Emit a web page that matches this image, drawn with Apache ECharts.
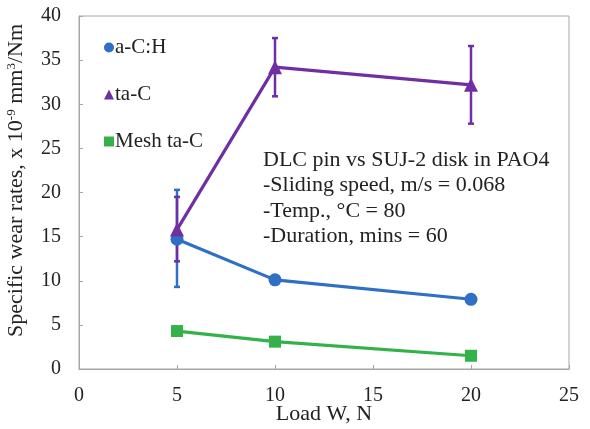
<!DOCTYPE html>
<html>
<head>
<meta charset="utf-8">
<script src="https://cdn.jsdelivr.net/npm/echarts@6/dist/echarts.min.js"></script>
<style>
  html, body { margin: 0; padding: 0; background: #fff; }
  #main { width: 590px; height: 429px; }
</style>
</head>
<body>
<div id="main"></div>
<script>
// data
var loads = [5, 10, 20];
var acH = [14.7, 10.1, 7.9];
var taC = [15.8, 34.2, 32.2];
var meshTaC = [4.3, 3.1, 1.5];
// error bars [low, high]
var acHErr = [[9.3, 20.3]];
var acHErrX = [5];
var taCErr = [[12.2, 19.5], [30.9, 37.5], [27.8, 36.6]];
var taCErrX = [5, 10, 20];
var xTicks = [0, 5, 10, 15, 20, 25];
var yTicks = [0, 5, 10, 15, 20, 25, 30, 35, 40];
var notes = [
  'DLC pin vs SUJ-2 disk in PAO4',
  '-Sliding speed, m/s = 0.068',
  '-Temp., \u00B0C = 80',
  '-Duration, mins = 60'
];

var FONT = '"Liberation Serif", "DejaVu Serif", serif';
var BLUE = '#2f6fc6', PURPLE = '#6f2fa3', GREEN = '#33b24a';

function pairs(xs, ys) {
  return xs.map(function (x, i) { return [x, ys[i]]; });
}
function errData(xs, errs) {
  return xs.map(function (x, i) { return [x, errs[i][0], errs[i][1]]; });
}
function errSeries(name, color, data) {
  return {
    name: name + ' err',
    type: 'custom',
    z: 1,
    silent: true,
    data: data,
    renderItem: function (params, api) {
      var lo = api.coord([api.value(0), api.value(1)]);
      var hi = api.coord([api.value(0), api.value(2)]);
      var w = 3;
      var st = { stroke: color, lineWidth: 2.5 };
      return {
        type: 'group',
        children: [
          { type: 'line', shape: { x1: lo[0], y1: lo[1], x2: hi[0], y2: hi[1] }, style: st },
          { type: 'line', shape: { x1: lo[0] - w, y1: lo[1], x2: lo[0] + w, y2: lo[1] }, style: st },
          { type: 'line', shape: { x1: hi[0] - w, y1: hi[1], x2: hi[0] + w, y2: hi[1] }, style: st }
        ]
      };
    }
  };
}
function lineSeries(name, color, symbol, size, data) {
  return {
    name: name,
    type: 'line',
    z: 3,
    data: data,
    symbol: symbol,
    symbolSize: size,
    showAllSymbol: true,
    lineStyle: { color: color, width: 3.2 },
    itemStyle: { color: color },
    emphasis: { disabled: true }
  };
}

var chart = echarts.init(document.getElementById('main'));
var option = {
  animation: false,
  backgroundColor: '#fff',
  grid: {
    left: 79, right: 21, top: 16, bottom: 60,
    outerBoundsMode: 'none', containLabel: false,
    show: true, borderColor: '#a6a6a6', borderWidth: 1
  },
  legend: {
    orient: 'vertical',
    left: 99,
    top: 32,
    itemGap: 26,
    itemWidth: 10,
    itemHeight: 10,
    data: [
      { name: 'a-C:H', icon: 'circle' },
      { name: 'ta-C', icon: 'triangle' },
      { name: 'Mesh ta-C', icon: 'rect' }
    ],
    textStyle: { fontFamily: FONT, fontSize: 21, color: '#222', padding: [0, 0, 0, -4] }
  },
  xAxis: {
    type: 'value',
    min: 0, max: 25, interval: 5,
    name: 'Load W, N',
    nameLocation: 'middle',
    nameGap: 34,
    nameMoveOverlap: false,
    nameTextStyle: { fontFamily: FONT, fontSize: 22, color: '#222' },
    axisLine: { lineStyle: { color: '#a6a6a6' } },
    axisTick: { inside: true, length: 4, lineStyle: { color: '#a6a6a6' } },
    axisLabel: {
      fontFamily: FONT, fontSize: 20, color: '#222', margin: 17,
      formatter: function (v) { return xTicks.indexOf(v) >= 0 ? String(v) : ''; }
    },
    splitLine: { show: false }
  },
  yAxis: {
    type: 'value',
    min: 0, max: 40, interval: 5,
    name: '{n|Specific wear rates, x 10}{s|-9}{n| mm}{s|3}{n|/Nm}',
    nameLocation: 'middle',
    nameGap: 52,
    nameMoveOverlap: false,
    nameTextStyle: {
      padding: [0, 0, 0, 24],
      rich: {
        n: { fontFamily: FONT, fontSize: 22, color: '#222' },
        s: { fontFamily: FONT, fontSize: 13, color: '#222', verticalAlign: 'top', padding: [0, 0, 9, 0] }
      }
    },
    axisLine: { show: true, lineStyle: { color: '#a6a6a6' } },
    axisTick: { show: true, inside: true, length: 4, lineStyle: { color: '#a6a6a6' } },
    axisLabel: {
      fontFamily: FONT, fontSize: 20, color: '#222', margin: 18,
      formatter: function (v) { return yTicks.indexOf(v) >= 0 ? String(v) : ''; }
    },
    splitLine: { show: false }
  },
  graphic: notes.map(function (t, i) {
    return {
      type: 'text',
      left: 263,
      top: 149 + i * 25.5,
      style: { text: t, font: '22px ' + FONT, fill: '#222' }
    };
  }),
  series: [
    errSeries('a-C:H', BLUE, errData(acHErrX, acHErr)),
    errSeries('ta-C', PURPLE, errData(taCErrX, taCErr)),
    lineSeries('a-C:H', BLUE, 'circle', 13, pairs(loads, acH)),
    lineSeries('ta-C', PURPLE, 'triangle', 14, pairs(loads, taC)),
    lineSeries('Mesh ta-C', GREEN, 'rect', 12, pairs(loads, meshTaC))
  ]
};
chart.setOption(option);
</script>
</body>
</html>
